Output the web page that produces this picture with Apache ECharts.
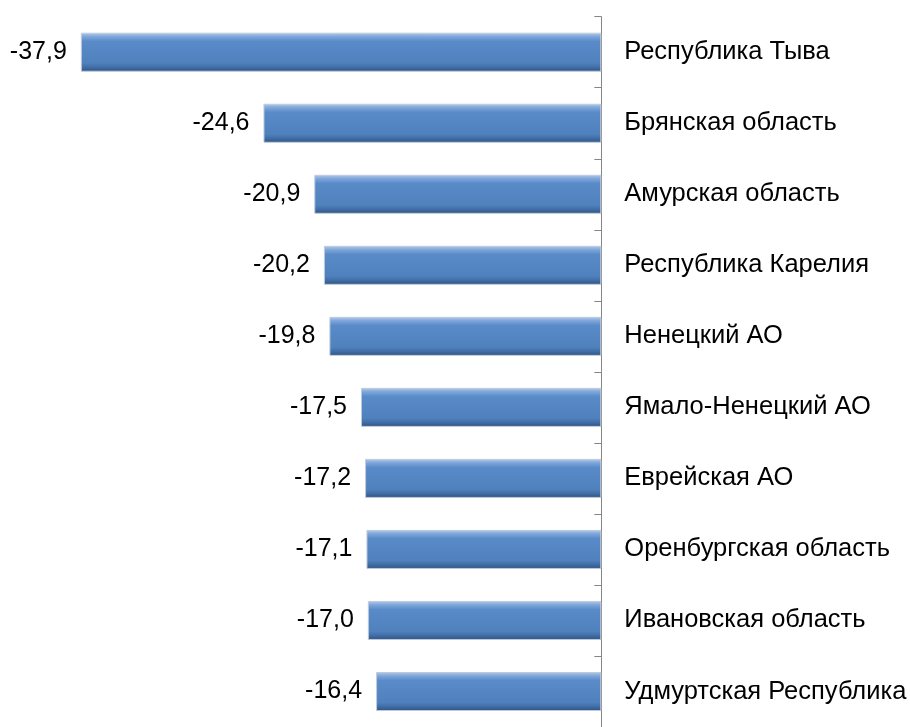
<!DOCTYPE html>
<html>
<head>
<meta charset="utf-8">
<script src="https://cdn.jsdelivr.net/npm/echarts@6/dist/echarts.min.js"></script>
<style>
html, body { margin: 0; padding: 0; background: #fff; }
#chart { width: 910px; height: 727px; }
</style>
</head>
<body>
<div id="chart"></div>
<script>
var regions = ['Республика Тыва', 'Брянская область', 'Амурская область', 'Республика Карелия',
    'Ненецкий АО', 'Ямало-Ненецкий АО', 'Еврейская АО', 'Оренбургская область',
    'Ивановская область', 'Удмуртская Республика'];
var changeValues = [-37.9, -24.6, -20.9, -20.2, -19.8, -17.5, -17.2, -17.1, -17.0, -16.4];

var chart = echarts.init(document.getElementById('chart'));

// полосы с эффектом рельефа
var barGradient = new echarts.graphic.LinearGradient(0, 0, 0, 1, [
    { offset: 0, color: '#b5cbe8' },
    { offset: 0.1, color: '#7ea6da' },
    { offset: 0.22, color: '#5a8bc9' },
    { offset: 0.78, color: '#4f81bd' },
    { offset: 0.9, color: '#3f6ba3' },
    { offset: 1, color: '#2c4f7c' }
]);

chart.setOption({
    animation: false,
    grid: {
        left: 52,
        right: 308.7,
        top: 16.7,
        bottom: -8.5
    },
    xAxis: {
        type: 'value',
        min: -40,
        max: 0,
        show: false
    },
    yAxis: {
        type: 'category',
        inverse: true,
        position: 'right',
        data: regions,
        axisLine: { show: true, lineStyle: { color: '#868686', width: 1 } },
        axisTick: { show: true, inside: true, length: 7, lineStyle: { color: '#868686' } },
        axisLabel: {
            margin: 23,
            color: '#000',
            fontSize: 25.5,
            fontFamily: 'Arial'
        },
        splitLine: { show: false }
    },
    series: [
        {
            type: 'bar',
            data: changeValues,
            barWidth: 39,
            itemStyle: {
                color: barGradient,
                borderColor: '#bfcbdc',
                borderWidth: 1
            },
            label: {
                show: true,
                position: 'left',
                distance: 14,
                color: '#000',
                fontSize: 25,
                fontFamily: 'Arial',
                formatter: function (p) {
                    return p.value.toFixed(1).replace('.', ',');
                }
            }
        }
    ]
});
</script>
</body>
</html>
